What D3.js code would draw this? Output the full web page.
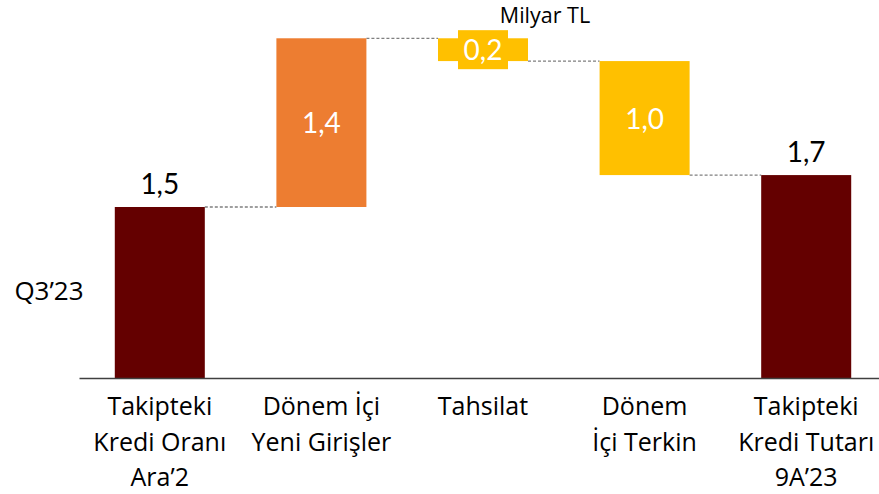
<!DOCTYPE html>
<html>
<head>
<meta charset="utf-8">
<script src="https://cdn.jsdelivr.net/npm/d3@7"></script>
<style>
  body { margin: 0; background: #fff; }
  text { font-family: "Open Sans", Lato, sans-serif; }
  .num { font-family: Lato, "Open Sans", sans-serif; }
</style>
</head>
<body>
<div id="chart"></div>
<script>
// categories (multi-line labels) and waterfall steps
const categories = ["t0", "in", "col", "wo", "t1"];
const catLabels = [
    ["Takipteki", "Kredi Oranı", "Ara’2"],
    ["Dönem İçi", "Yeni Girişler"],
    ["Tahsilat"],
    ["Dönem", "İçi Terkin"],
    ["Takipteki", "Kredi Tutarı", "9A’23"]
];
const stepTypes = ["total", "up", "down", "down", "total"];
const stepValues = [1.5, 1.48, 0.2, 1.0, 1.78];
const valueLabels = ["1,5", "1,4", "0,2", "1,0", "1,7"];
const barColors = ["#640000", "#ED7D31", "#FFC000", "#FFC000", "#640000"];

const width = 879, height = 494;
const margin = {top: 36, bottom: 116, left: 79, right: -8}

const svg = d3.select('#chart').append('svg')
    .attr('width', width)
    .attr('height', height);

var x = d3.scaleBand().domain(categories)
    .range([margin.left, width - margin.right])
    .paddingInner(0.443)
    .paddingOuter(0.2215);

var y = d3.scaleLinear().domain([0, 3])
    .range([height - margin.bottom, margin.top]);

// build running waterfall
let run = 0;
const bars = categories.map((c, i) => {
    let lo, hi;
    if (stepTypes[i] == "total") {
        lo = 0; hi = stepValues[i]; run = stepValues[i];
    } else if (stepTypes[i] == "up") {
        lo = run; hi = run + stepValues[i]; run = hi;
    } else {
        hi = run; lo = run - stepValues[i]; run = lo;
    }
    return {cat: c, lo: lo, hi: hi, end: run, i: i};
});

// connectors
const conn = svg.append('g').classed('connectors', true);
bars.slice(0, -1).forEach((b, i) => {
    conn.append('line')
        .attr('x1', x(b.cat) + x.bandwidth())
        .attr('x2', x(bars[i + 1].cat))
        .attr('y1', y(b.end))
        .attr('y2', y(b.end))
        .attr('stroke', '#7f7f7f')
        .attr('stroke-width', 1.3)
        .attr('stroke-dasharray', '3,2');
});

// bars
svg.append('g').classed('bars', true)
    .selectAll('rect')
    .data(bars)
    .join('rect')
    .attr('x', d => x(d.cat))
    .attr('width', x.bandwidth())
    .attr('y', d => y(d.hi))
    .attr('height', d => y(d.lo) - y(d.hi))
    .attr('fill', d => barColors[d.i]);

// x axis (line only)
const gx = svg.append('g')
    .attr('transform', `translate(0,${y(0)})`)
    .call(d3.axisBottom(x).tickSize(0).tickSizeOuter(0).tickFormat(''));
gx.select('.domain').attr('stroke', '#404040').attr('stroke-width', 1.5);

// category labels
const lab = svg.append('g').classed('cat-labels', true);
categories.forEach((c, i) => {
    const t = lab.append('text')
        .attr('text-anchor', 'middle')
        .attr('font-size', 25)
        .attr('fill', '#000');
    catLabels[i].forEach((line, j) => {
        t.append('tspan')
            .attr('x', x(c) + x.bandwidth() / 2)
            .attr('y', y(0) + 37 + j * 35.5)
            .text(line);
    });
});

// value labels
const vl = svg.append('g').classed('value-labels', true);
bars.forEach(b => {
    const cx = x(b.cat) + x.bandwidth() / 2;
    if (stepTypes[b.i] == "total") {
        vl.append('text').classed('num', true)
            .attr('x', cx)
            .attr('y', y(b.hi) - 13)
            .attr('text-anchor', 'middle')
            .attr('font-size', 28)
            .attr('fill', '#000')
            .text(valueLabels[b.i]);
    } else {
        const cy = (y(b.lo) + y(b.hi)) / 2;
        // small bar: label gets its own coloured box
        if (y(b.lo) - y(b.hi) < 40) {
            vl.append('rect')
                .attr('x', cx - 25)
                .attr('y', cy - 19.5)
                .attr('width', 50)
                .attr('height', 39)
                .attr('fill', barColors[b.i]);
        }
        vl.append('text').classed('num', true)
            .attr('x', cx)
            .attr('y', cy + 10.5)
            .attr('text-anchor', 'middle')
            .attr('font-size', 28)
            .attr('fill', '#fff')
            .text(valueLabels[b.i]);
    }
});

// unit + period
svg.append('text')
    .attr('x', 545).attr('y', 23)
    .attr('text-anchor', 'middle')
    .attr('font-size', 21.5)
    .text('Milyar TL');

svg.append('text')
    .attr('x', 49).attr('y', 300)
    .attr('text-anchor', 'middle')
    .attr('font-size', 26)
    .text('Q3’23');
</script>
</body>
</html>
